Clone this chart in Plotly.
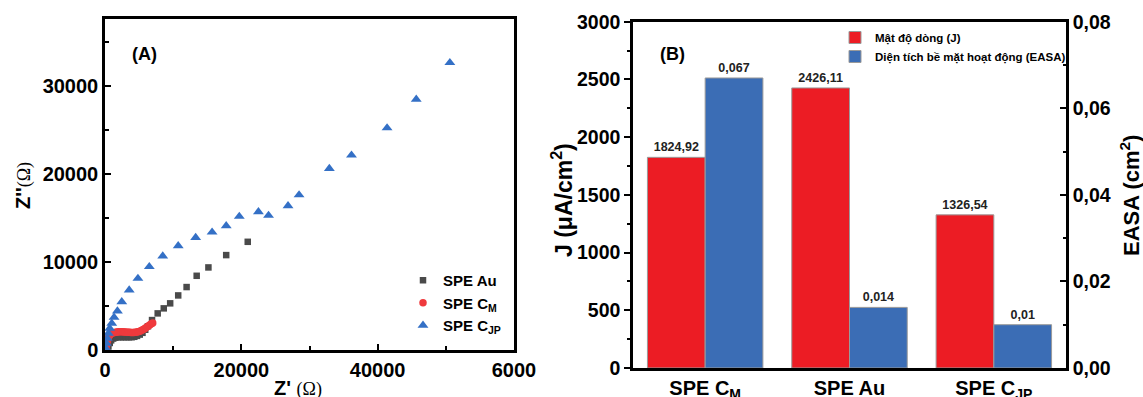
import plotly.graph_objects as go

W, H = 1143, 397


def px(x):
    return x / W


def py(y):
    return 1 - y / H


# ---------------- Panel (A): Nyquist data ----------------
au_x = [300, 500, 700, 900, 1200, 1500, 1900, 2300, 2700, 3100, 3500, 3900, 4300, 4700,
        5100, 5500, 5900, 6300, 6900, 7730, 8620, 9560, 10740, 11970, 13450, 15170, 17780, 20940]
au_y = [100, 400, 800, 1100, 1300, 1400, 1450, 1450, 1450, 1450, 1450, 1450, 1500, 1600,
        1750, 1950, 2300, 2700, 3400, 4160, 4730, 5300, 6200, 7150, 8430, 9380, 10780, 12290]

cm_x = [150, 250, 350, 500, 650, 800, 1000, 1200, 1400, 1600, 1800, 2000, 2200, 2400, 2600,
        2800, 3000, 3200, 3400, 3600, 3800, 4000, 4200, 4400, 4600, 4800, 5000, 5200, 5400,
        5600, 5800, 6000, 6200, 6400, 6600, 6800, 7000]
cm_y = [200, 600, 1000, 1400, 1650, 1800, 1900, 1950, 2000, 2030, 2050, 2060, 2070, 2070, 2060,
        2050, 2040, 2030, 2020, 2010, 2000, 2000, 2000, 2010, 2030, 2060, 2100, 2160, 2230,
        2320, 2420, 2530, 2640, 2760, 2870, 2980, 3080]

cjp_x = [100, 200, 340, 490, 690, 990, 1330, 1820, 2460, 3550, 4830, 6500, 8470, 10740, 13300,
         15710, 17780, 19700, 22510, 23990, 26850, 28470, 32910, 36160, 41380, 45660, 50590]
cjp_y = [190, 760, 1320, 1890, 2460, 3030, 3710, 4430, 5480, 6810, 8130, 9460, 10670, 11840, 12780,
         13390, 14110, 15170, 15700, 15280, 16380, 17620, 20610, 22130, 25230, 28480, 32640]

# ---------------- Panel (B): bar data ----------------
categories = ["SPE C<sub>M</sub>", "SPE Au", "SPE C<sub>JP</sub>"]
j_values = [1824.92, 2426.11, 1326.54]
easa_values = [0.067, 0.014, 0.01]

j_text = [f"{v:.2f}".replace(".", ",") for v in j_values]
easa_text = [str(v).replace(".", ",") for v in easa_values]

FONT = "Liberation Sans"
BLACK = "#000000"

fig = go.Figure()

fig.add_trace(go.Scatter(
    x=au_x, y=au_y, mode="markers", name="SPE Au",
    marker=dict(symbol="square", size=6.5, color="#4a4a4a"),
    xaxis="x", yaxis="y", legend="legend"))
fig.add_trace(go.Scatter(
    x=cm_x, y=cm_y, mode="markers", name="SPE C<sub>M</sub>",
    marker=dict(symbol="circle", size=7.5, color="#ef3a3d"),
    xaxis="x", yaxis="y", legend="legend"))
fig.add_trace(go.Scatter(
    x=cjp_x, y=cjp_y, mode="markers", name="SPE C<sub>JP</sub>",
    marker=dict(symbol="triangle-up", size=9.5, color="#3470c6"),
    xaxis="x", yaxis="y", legend="legend"))

fig.add_trace(go.Bar(
    x=categories, y=j_values, name="Mật độ dòng (J)",
    xaxis="x2", yaxis="y2", offsetgroup="J", legend="legend2",
    marker=dict(color="#ec1c24", line=dict(color="#9a9a9a", width=1)),
    text=j_text, textposition="outside", constraintext="none", cliponaxis=False,
    textfont=dict(family=FONT, size=12.5, color="#222222", weight="bold")))
fig.add_trace(go.Bar(
    x=categories, y=easa_values, name="Diện tích bề mặt hoạt động (EASA)",
    xaxis="x2", yaxis="y3", offsetgroup="E", legend="legend2",
    marker=dict(color="#3b6db5", line=dict(color="#9a9a9a", width=1)),
    text=easa_text, textposition="outside", constraintext="none", cliponaxis=False,
    textfont=dict(family=FONT, size=12.5, color="#222222", weight="bold")))

tickfont = dict(family=FONT, size=20, color=BLACK, weight="bold")

fig.update_layout(
    template="none",
    width=W, height=H,
    margin=dict(l=0, r=0, t=0, b=0, pad=0, autoexpand=False),
    paper_bgcolor="white", plot_bgcolor="white",
    separators=",.",
    barmode="group", bargap=0.2, bargroupgap=0,
    font=dict(family=FONT, color=BLACK),
    xaxis=dict(
        domain=[px(105), px(514)], anchor="y", range=[0, 60000], automargin=False,
        tickvals=[0, 20000, 40000, 60000], ticktext=["0", "20000", "40000", "6000"],
        ticks="inside", ticklen=6, tickwidth=2, tickcolor=BLACK,
        minor=dict(tickvals=[10000, 30000, 50000], ticks="inside", ticklen=4, tickwidth=2, tickcolor=BLACK),
        showline=True, linewidth=2.5, linecolor=BLACK, mirror=True,
        showgrid=False, zeroline=False, tickfont=tickfont),
    yaxis=dict(
        domain=[py(350), py(19)], anchor="x", range=[0, 37600], automargin=False,
        dtick=10000, tickformat="d",
        ticks="inside", ticklen=6, tickwidth=2, tickcolor=BLACK,
        minor=dict(dtick=5000, ticks="inside", ticklen=4, tickwidth=2, tickcolor=BLACK),
        showline=True, linewidth=2.5, linecolor=BLACK, mirror=True,
        showgrid=False, zeroline=False, tickfont=tickfont),
    xaxis2=dict(
        domain=[px(633), px(1066)], anchor="y2", automargin=False,
        ticks="", showline=True, linewidth=2.5, linecolor=BLACK, mirror=True,
        showgrid=False, zeroline=False, tickfont=tickfont),
    yaxis2=dict(
        domain=[py(368), py(21.7)], anchor="x2", range=[0, 3000], dtick=500, tickformat="d",
        automargin=False,
        ticks="outside", ticklen=6, tickwidth=2, tickcolor=BLACK,
        minor=dict(dtick=250, ticks="outside", ticklen=3, tickwidth=2, tickcolor=BLACK),
        showline=True, linewidth=2.5, linecolor=BLACK,
        showgrid=False, zeroline=False, tickfont=dict(family=FONT, size=19.5, color=BLACK, weight="bold")),
    yaxis3=dict(
        overlaying="y2", side="right", anchor="x2", range=[0, 0.08], dtick=0.02, tickformat=".2f",
        automargin=False,
        ticks="inside", ticklen=6, tickwidth=2, tickcolor=BLACK,
        minor=dict(dtick=0.01, ticks="inside", ticklen=3, tickwidth=2, tickcolor=BLACK),
        showline=True, linewidth=2.5, linecolor=BLACK,
        showgrid=False, zeroline=False, tickfont=dict(family=FONT, size=19.5, color=BLACK, weight="bold")),
    legend=dict(
        x=px(403), y=py(264), xanchor="left", yanchor="top",
        bgcolor="rgba(0,0,0,0)", tracegroupgap=0, itemwidth=30,
        font=dict(family=FONT, size=15, color=BLACK, weight="bold")),
    legend2=dict(
        x=px(835), y=py(23), xanchor="left", yanchor="top",
        bgcolor="rgba(0,0,0,0)", tracegroupgap=0, itemwidth=30,
        font=dict(family=FONT, size=11.5, color=BLACK, weight="bold")),
    showlegend=True,
)

ann = [
    dict(text="<b>(A)</b>", x=px(144), y=py(54), font=dict(size=18)),
    dict(text="<b>(B)</b>", x=px(672), y=py(54), font=dict(size=18)),
    dict(text="<b>Z''</b><span style='font-family:Liberation Serif;font-weight:normal;font-size:18px'>(Ω)</span>",
         x=px(23), y=py(186), textangle=-90, font=dict(size=20)),
    dict(text="<b>Z'</b> <span style='font-family:Liberation Serif;font-weight:normal;font-size:18px'>(Ω)</span>",
         x=px(298), y=py(388), font=dict(size=20)),
    dict(text="<b>J (μA/cm<sup>2</sup>)</b>", x=px(562), y=py(200), textangle=-90, font=dict(size=23)),
    dict(text="<b>EASA (cm<sup>2</sup>)</b>", x=px(1130), y=py(196), textangle=-90, font=dict(size=22)),
]
for a in ann:
    a.update(xref="paper", yref="paper", showarrow=False, xanchor="center", yanchor="middle")
    a["font"].update(family=FONT, color=BLACK)
fig.update_layout(annotations=ann)

fig.write_html(
    "out.html",
    config={"displayModeBar": False},
    post_script="document.body.style.margin='0';document.body.style.overflow='hidden';",
)
